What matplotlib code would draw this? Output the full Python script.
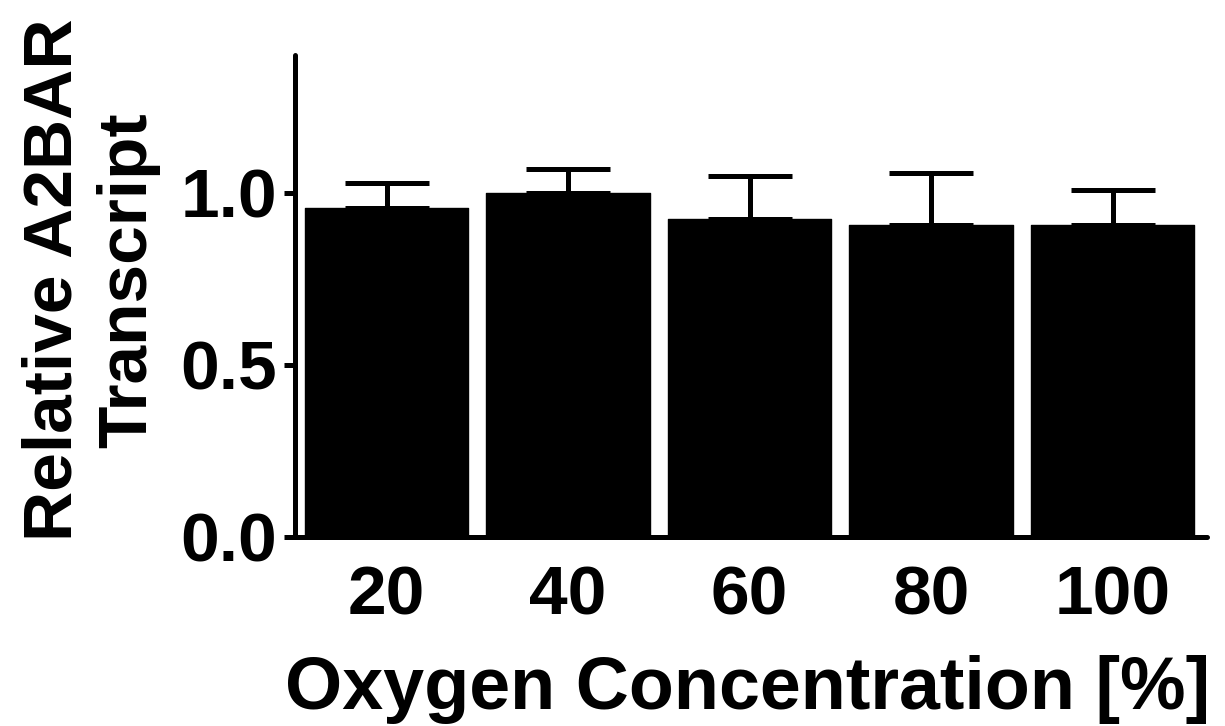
import matplotlib
matplotlib.use("Agg")
import matplotlib.pyplot as plt
import numpy as np

categories = ["20", "40", "60", "80", "100"]
means = [0.955, 1.0, 0.925, 0.905, 0.905]
err_upper = [0.073, 0.07, 0.125, 0.153, 0.103]
yticks = [0.0, 0.5, 1.0]
ytick_labels = ["0.0", "0.5", "1.0"]

plt.rcParams['font.family'] = ['Liberation Sans', 'DejaVu Sans']
plt.rcParams['font.weight'] = 'bold'

W, H = 1225, 726
fig = plt.figure(figsize=(W / 100, H / 100), dpi=100)
ax = fig.add_axes([295 / W, (H - 537) / H, (1207 - 295) / W, (537 - 55) / H])

x = np.arange(len(categories))
ax.bar(x, means, width=0.9, color='black', edgecolor='black', linewidth=1.0,
       joinstyle='round', zorder=2)
ax.errorbar(x, means, yerr=[np.zeros(len(means)), err_upper], fmt='none',
            ecolor='black', elinewidth=3.6, capsize=30, capthick=3.6, zorder=3)
for c in ax.collections:
    c.set_capstyle('round')
for l in ax.lines:
    l.set_solid_capstyle('round')

ax.set_xlim(-0.505, 4.52)
ax.set_ylim(0, 1.4)
ax.set_yticks(yticks)
ax.set_yticklabels(ytick_labels)
ax.set_xticks(x)
ax.set_xticklabels(categories)

for s in ['top', 'right']:
    ax.spines[s].set_visible(False)
for s in ['left', 'bottom']:
    ax.spines[s].set_linewidth(3.6)
    ax.spines[s].set_capstyle('round')

ax.tick_params(axis='y', length=8, width=3.6, pad=5, labelsize=50, direction='out')
ax.tick_params(axis='x', length=0, pad=20, labelsize=50)
for lab in ax.get_xticklabels() + ax.get_yticklabels():
    lab.set_fontweight('bold')

fig.text(91 / W, (H - 280) / H, "Relative A2BAR\nTranscript", rotation=90,
         ha='center', va='center', multialignment='center',
         fontsize=50, fontweight='bold')
fig.text(748 / W, (H - 709) / H, "Oxygen Concentration [%]", ha='center',
         va='baseline', fontsize=53, fontweight='bold')

fig.savefig("out.png", dpi=100)
